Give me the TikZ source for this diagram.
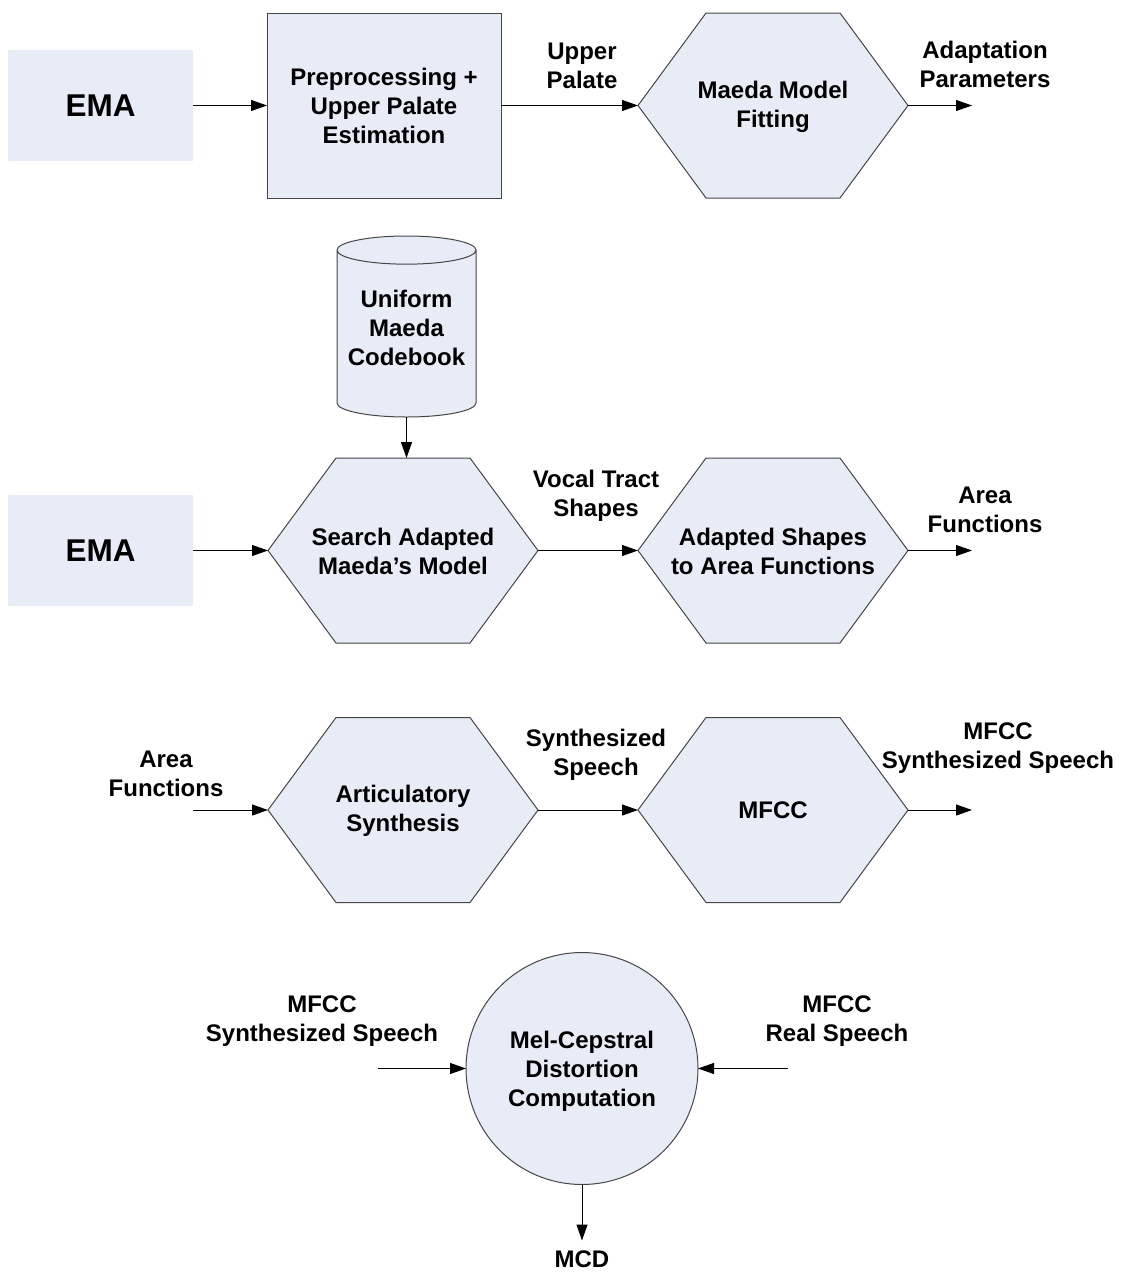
\documentclass[tikz,border=0pt]{standalone}
\usepackage{fontspec}
\setmainfont{Liberation Sans}
\usetikzlibrary{arrows.meta,shapes.geometric,backgrounds}
\definecolor{boxfill}{RGB}{231,236,247}
\definecolor{boxline}{RGB}{70,70,70}
\begin{document}
\begin{tikzpicture}[x=1pt,y=-1pt,
  every node/.style={font=\bfseries\fontsize{24}{29}\selectfont, align=center, inner sep=0pt, outer sep=0pt},
  emabox/.style={fill=boxfill, minimum width=185pt, minimum height=111pt, font=\bfseries\fontsize{31.5}{36}\selectfont},
  procbox/.style={fill=boxfill, draw=boxline, line width=1pt, minimum width=234pt, minimum height=185pt},
  hexbox/.style={minimum width=270pt, minimum height=185pt},
  hexline/.style={fill=boxfill, draw=boxline, line width=1pt},
  dbbox/.style={cylinder, shape border rotate=90, aspect=0.24, fill=boxfill, draw=boxline, line width=1pt, minimum width=139pt, minimum height=181pt, anchor=shape center},
  mcdbox/.style={circle, fill=boxfill, draw=boxline, line width=1pt, minimum size=232pt},
  flow/.style={draw=black, line width=1pt, -{Triangle[length=16pt,width=11pt]}},
  lbl/.style={}
]
\useasboundingbox (0,0) rectangle (1121,1272);

% --- row 1: palate estimation and model fitting
\node[emabox] (ema1) at (100.5,105.5) {EMA};
\node[procbox] (pre) at (384,105.5) {Preprocessing +\\Upper Palate\\Estimation};
\node[hexbox] (h1) at (773,105.5) {};
\node (h1t) at (773,107) {Maeda Model\\Fitting};
\coordinate (o1) at ([xshift=64pt]h1.east);
\node[lbl] (l1) at (582,66) {Upper\\Palate};
\node[lbl] (l2) at (985,64) {Adaptation\\Parameters};

% --- row 2: codebook search
% the cylinder keeps the size of its (invisible) text so its end ellipses stay the same
\node[dbbox] (db) at (406.5,326.5) {\phantom{Uniform}\\\phantom{Maeda}\\\phantom{Codebook}};
\node (dbt) at (406.5,327.5) {Uniform\\Maeda\\Codebook};
\node[emabox] (ema2) at (100.5,550.5) {EMA};
\node[hexbox] (h2) at (403,550.5) {};
\node (h2t) at (403,551) {Search Adapted\\Maeda’s Model};
\node[hexbox] (h3) at (773,550.5) {};
\node (h3t) at (773,551) {Adapted Shapes\\to Area Functions};
\coordinate (o2) at ([xshift=64pt]h3.east);
\node[lbl] (l3) at (596,496) {Vocal Tract\\Shapes};
\node[lbl] (l4) at (985,510) {Area\\Functions};

% --- row 3: synthesis and MFCC
\node[hexbox] (h4) at (403,810) {};
\node (h4t) at (403,811) {Articulatory\\Synthesis};
\coordinate (i3) at ([xshift=-75pt]h4.west);
\node[hexbox] (h5) at (773,810) {MFCC};
\coordinate (o3) at ([xshift=64pt]h5.east);
\node[lbl] (l5) at (166,774) {Area\\Functions};
\node[lbl] (l6) at (596,755) {Synthesized\\Speech};
\node[lbl] (l7) at (998,748) {MFCC\\Synthesized Speech};

% --- row 4: distortion measure
\node[mcdbox] (mcd) at (582,1068.5) {};
\node (mcdt) at (582,1071) {Mel-Cepstral\\Distortion\\Computation};
\coordinate (i4a) at ([xshift=-88pt]mcd.west);
\coordinate (i4b) at ([xshift=90pt]mcd.east);
\coordinate (o4) at ([yshift=-56pt]mcd.south);
\node[lbl] (l8) at (322,1021) {MFCC\\Synthesized Speech};
\node[lbl] (l9) at (837,1021) {MFCC\\Real Speech};
\node[lbl] (l10) at (582,1259) {MCD};

% page background and hexagon outlines behind the labels
\begin{scope}[on background layer]
\fill[white] (0,0) rectangle (1121,1272);
\foreach \h in {h1,h2,h3,h4,h5}
  \draw[hexline] (\h.west) -- ([xshift=68pt]\h.north west) -- ([xshift=-68pt]\h.north east)
    -- (\h.east) -- ([xshift=-68pt]\h.south east) -- ([xshift=68pt]\h.south west) -- cycle;
\end{scope}

% connectors
\draw[flow] (ema1.east) -- (pre.west);
\draw[flow] (pre.east) -- (h1.west);
\draw[flow] (h1.east) -- (o1);
\draw[flow] (db.bottom) -- (db.bottom |- h2.north);
\draw[flow] (ema2.east) -- (h2.west);
\draw[flow] (h2.east) -- (h3.west);
\draw[flow] (h3.east) -- (o2);
\draw[flow] (i3) -- (h4.west);
\draw[flow] (h4.east) -- (h5.west);
\draw[flow] (h5.east) -- (o3);
\draw[flow] (i4a) -- (mcd.west);
\draw[flow] (i4b) -- (mcd.east);
\draw[flow] (mcd.south) -- (o4);
\end{tikzpicture}
\end{document}
